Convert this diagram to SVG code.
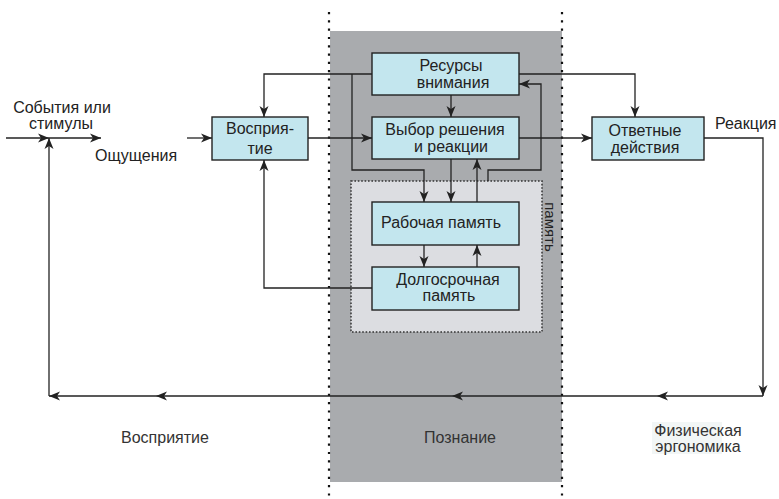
<svg xmlns="http://www.w3.org/2000/svg" width="779" height="499" viewBox="0 0 779 499">
  <style>
    text { font-family: "Liberation Sans", Arial, sans-serif; font-size: 16px; fill: #222; }
    .c { text-anchor: middle; }
    .box { fill: #c3e6ee; stroke: #222; stroke-width: 1.4; }
    .ln { fill: none; stroke: #222; stroke-width: 1.3; }
    .arr { marker-end: url(#ah); }
    .sep { stroke: #111; stroke-width: 2.2; stroke-dasharray: 2.2 6.1; }
  </style>
  <defs>
    <marker id="ah" markerUnits="userSpaceOnUse" markerWidth="12" markerHeight="10" viewBox="0 0 12 10" refX="11" refY="5" orient="auto">
      <path d="M0,0.5 L11,5 L0,9.5 L3,5 Z" fill="#222"/>
    </marker>
  </defs>

  <!-- cognition zone -->
  <rect x="330" y="31" width="232" height="451" fill="#a9abae"/>
  <line class="sep" x1="329" y1="12" x2="329" y2="499"/>
  <line class="sep" x1="562" y1="12" x2="562" y2="499"/>

  <!-- memory container -->
  <g id="memory">
    <rect x="351" y="181" width="191" height="151" fill="#dcdde1" stroke="#333" stroke-width="1.5" stroke-dasharray="1.6 1.8"/>
    <text transform="translate(545,227) rotate(90)" class="c" style="font-size:15px">память</text>
  </g>

  <!-- connectors -->
  <g id="connectors">
    <!-- input -->
    <line class="ln arr" x1="6" y1="138" x2="49" y2="138"/>
    <line class="ln arr" x1="49" y1="138" x2="101" y2="138"/>
    <line class="ln arr" x1="187" y1="138" x2="212" y2="138"/>
    <line class="ln arr" x1="308" y1="138" x2="372" y2="138"/>
    <line class="ln arr" x1="519" y1="138" x2="592" y2="138"/>
    <!-- attention resources outputs -->
    <polyline class="ln arr" points="372,74 264,74 264,117"/>
    <polyline class="ln arr" points="352,74 352,170 424,170 424,202"/>
    <polyline class="ln arr" points="519,74 635,74 635,117"/>
    <line class="ln arr" x1="451" y1="95" x2="451" y2="117"/>
    <!-- decision / memory -->
    <line class="ln arr" x1="451" y1="159" x2="451" y2="202"/>
    <line class="ln arr" x1="477" y1="202" x2="477" y2="159"/>
    <polyline class="ln arr" points="488,181 488,170 541,170 541,84 519,84"/>
    <line class="ln arr" x1="424" y1="245" x2="424" y2="267"/>
    <line class="ln arr" x1="477" y1="267" x2="477" y2="245"/>
    <polyline class="ln arr" points="372,288 264,288 264,160"/>
    <!-- response and feedback loop -->
    <polyline class="ln arr" points="704,138 763,138 763,396"/>
    <line class="ln arr" x1="763" y1="396" x2="657" y2="396"/>
    <line class="ln arr" x1="657" y1="396" x2="452" y2="396"/>
    <line class="ln arr" x1="452" y1="396" x2="156" y2="396"/>
    <line class="ln arr" x1="156" y1="396" x2="49" y2="396"/>
    <line class="ln arr" x1="49" y1="396" x2="49" y2="138"/>
  </g>

  <g id="perception">
    <rect class="box" x="212" y="117" width="96" height="43"/>
    <text class="c" x="260" y="134">Восприя-</text>
    <text class="c" x="260" y="154">тие</text>
  </g>
  <g id="attention">
    <rect class="box" x="372" y="53" width="147" height="42"/>
    <text class="c" x="451" y="71">Ресурсы</text>
    <text class="c" x="453" y="88">внимания</text>
  </g>
  <g id="decision">
    <rect class="box" x="372" y="117" width="147" height="42"/>
    <text class="c" x="445" y="135">Выбор решения</text>
    <text class="c" x="451" y="152">и реакции</text>
  </g>
  <g id="working-memory">
    <rect class="box" x="372" y="202" width="147" height="43"/>
    <text class="c" x="441" y="228">Рабочая память</text>
  </g>
  <g id="long-term-memory">
    <rect class="box" x="372" y="267" width="147" height="43"/>
    <text class="c" x="448" y="285">Долгосрочная</text>
    <text class="c" x="449" y="301">память</text>
  </g>
  <g id="response">
    <rect class="box" x="592" y="117" width="112" height="43"/>
    <text class="c" x="645" y="136">Ответные</text>
    <text class="c" x="645" y="153">действия</text>
  </g>

  <!-- free labels -->
  <g id="labels">
    <text class="c" x="62" y="113">События или</text>
    <text class="c" x="61" y="129">стимулы</text>
    <text x="95" y="161">Ощущения</text>
    <text x="715" y="129">Реакция</text>
    <text class="c" x="165" y="443" style="fill:#333">Восприятие</text>
    <text class="c" x="460" y="443" style="fill:#333">Познание</text>
    <rect x="652" y="422" width="70" height="32" fill="#f2f6f6"/>
    <text class="c" x="698" y="436" style="fill:#333">Физическая</text>
    <text class="c" x="698" y="452" style="fill:#333">эргономика</text>
  </g>
</svg>
